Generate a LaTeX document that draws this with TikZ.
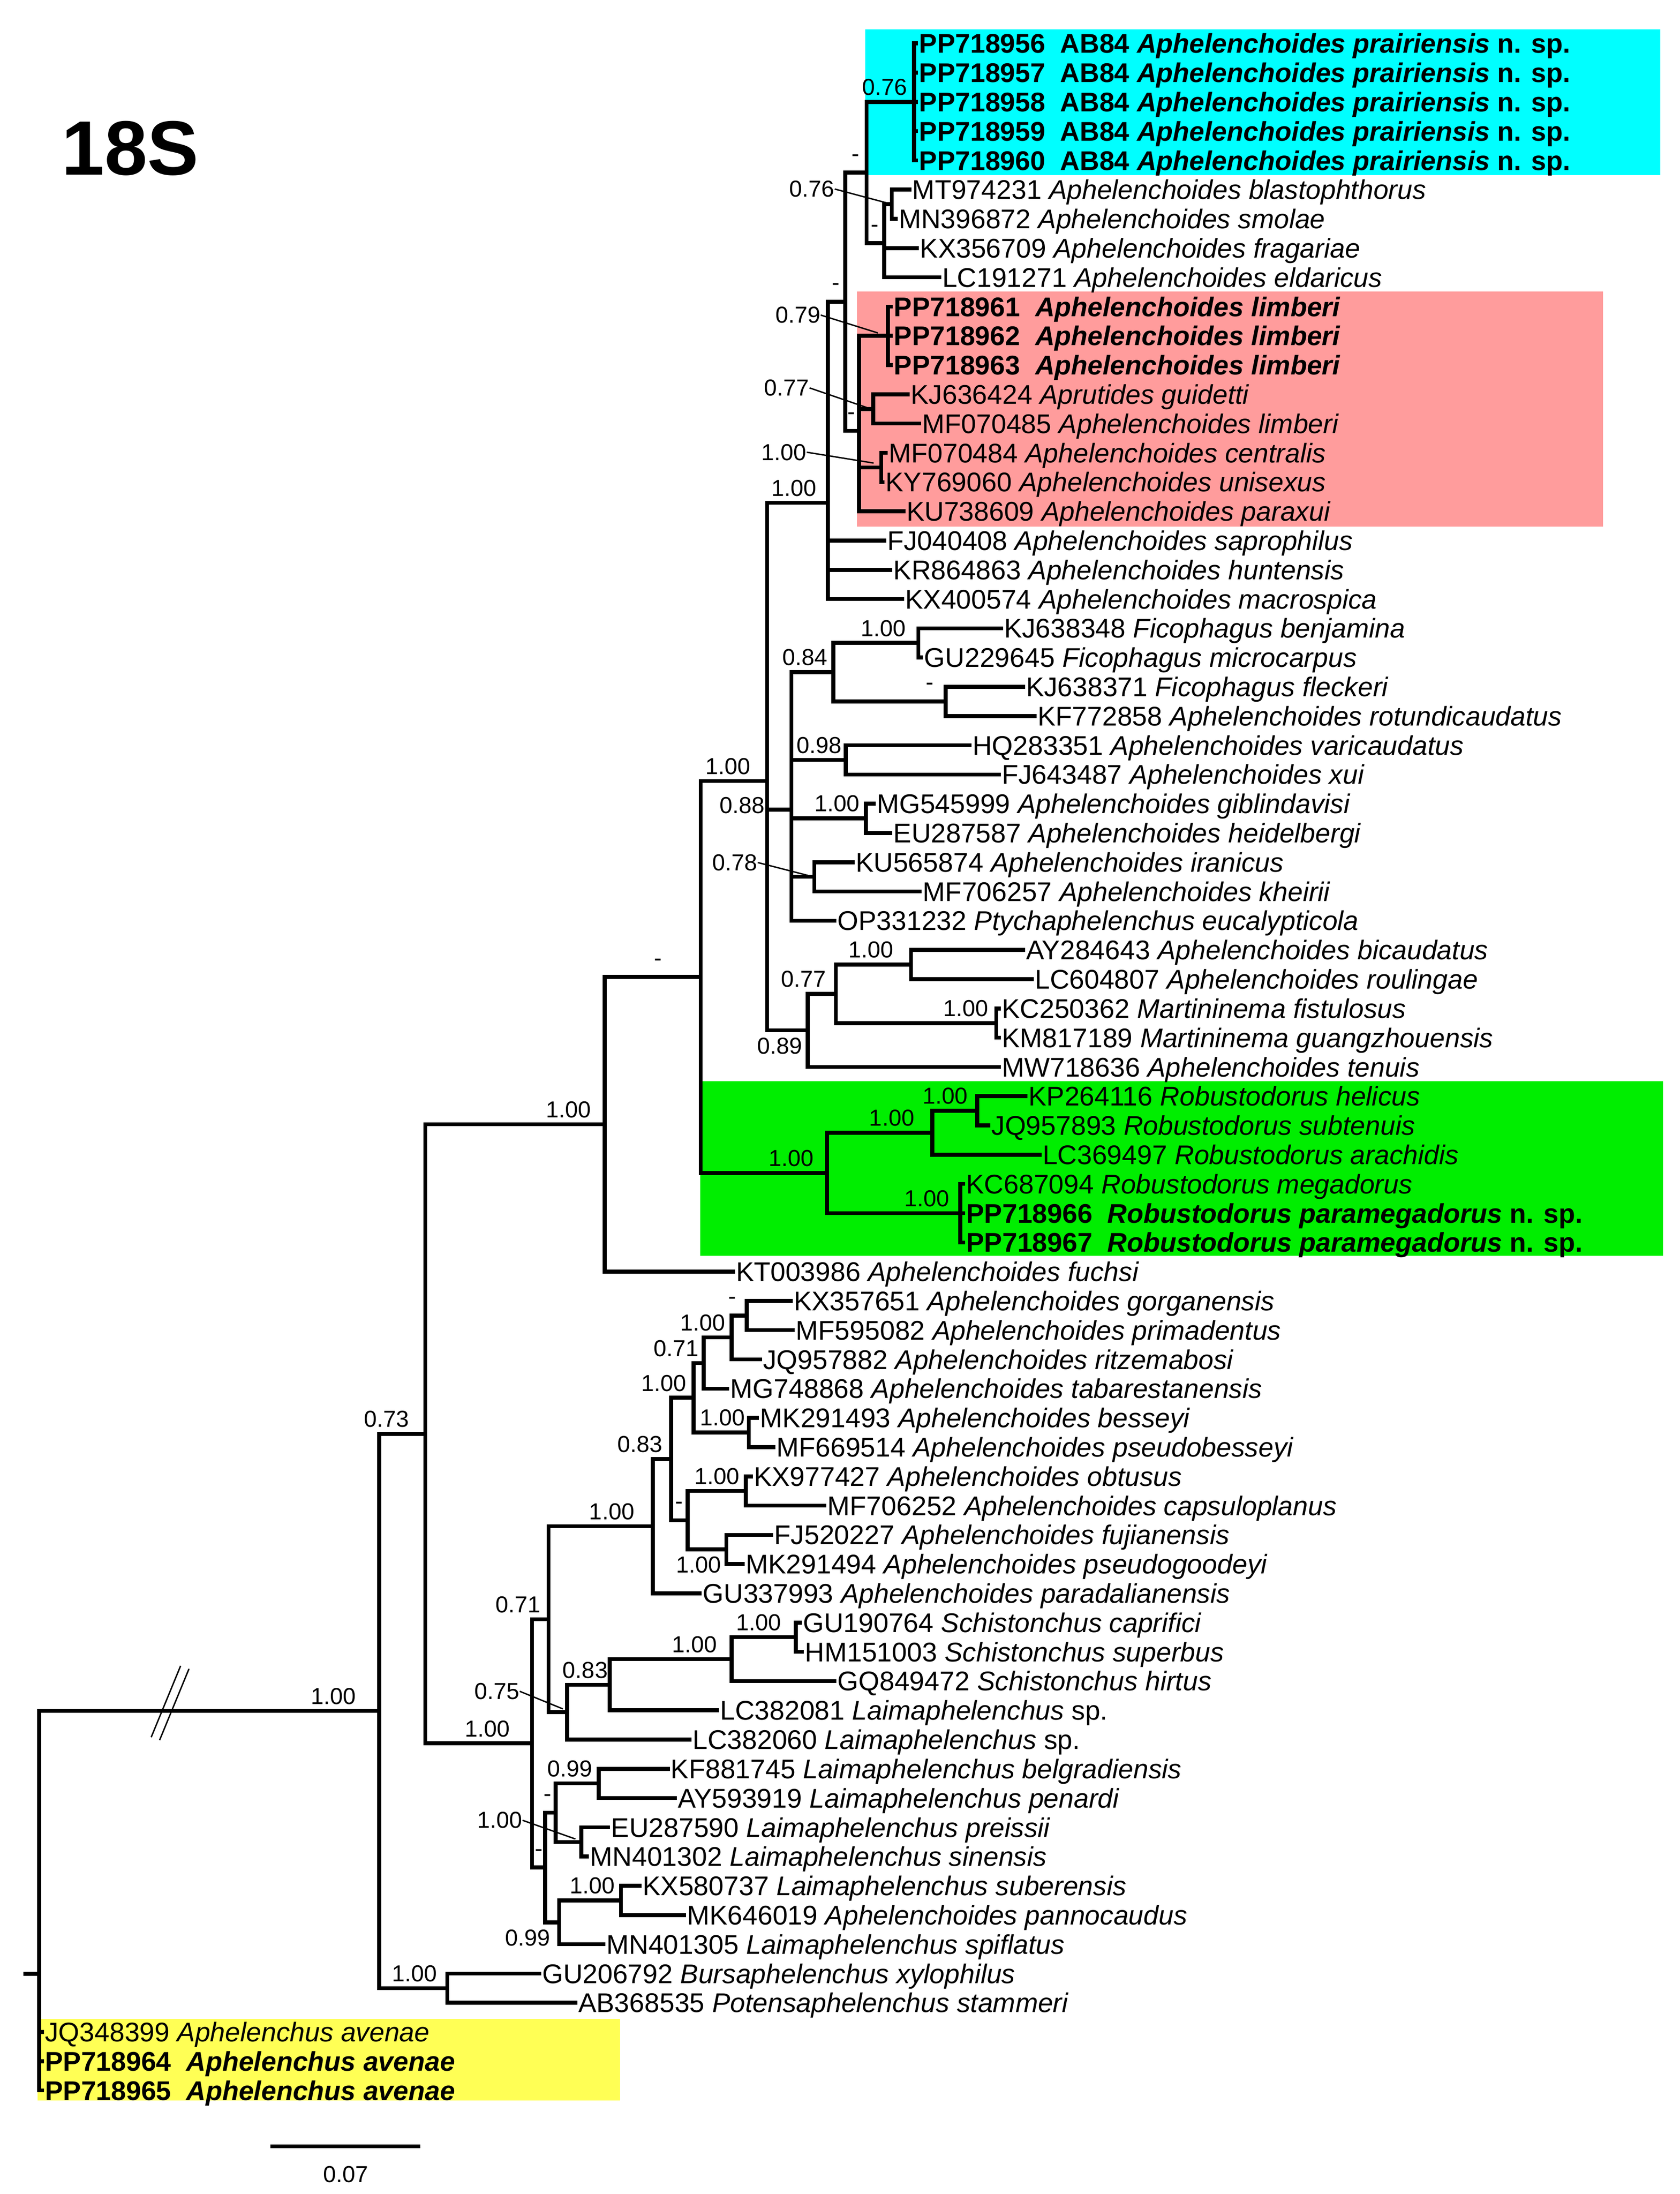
\documentclass[tikz,border=0pt]{standalone}
\usepackage{fontspec}
\setmainfont{Liberation Sans}
\newfontfamily\lf{Liberation Sans}
\definecolor{cybox}{HTML}{00FFFF}
\definecolor{pkbox}{HTML}{FF9C9C}
\definecolor{grbox}{HTML}{00EE00}
\definecolor{ylbox}{HTML}{FFFF55}
\newcommand\cl[4]{\draw[br] (#1 |- #2) -- (#1 |- #3); \foreach \c in {#4} {\draw[br] (#1 |- \c) -- (\c);}}
\newcommand\ab[3]{\node[lab] at (#1,#2) [yshift=10.5pt] {#3};}
\newcommand\be[3]{\node[lab] at (#1,#2) [yshift=-11pt] {#3};}
\begin{document}
\begin{tikzpicture}[x=1pt,y=-20.886pt,
  br/.style={line width=2.8pt,line cap=rect},
  thin/.style={line width=1pt},
  leaf/.style={anchor=west,inner xsep=2pt,inner ysep=0pt,text height=14pt,text depth=0.2pt,font=\lf\fontsize{19.3}{20}\selectfont},
  lab/.style={inner sep=0pt,font=\lf\fontsize{16.5}{18}\selectfont}]
\useasboundingbox (0,-0.4843) rectangle (1200,74.54);
% boxes
\fill[cybox] (618,0.52) rectangle (1186,5.5);
\fill[pkbox] (612,9.48) rectangle (1145,17.52);
\fill[grbox] (500,36.48) rectangle (1188,42.46);
\fill[ylbox] (27,68.56) rectangle (443,71.34);
\node[font=\lf\bfseries\fontsize{55}{60}\selectfont] (title) at (93,4.59) {18S};
% leaves
\node[leaf] (l1) at (654.4,1) {\textbf{PP718956\ \ AB84 \textit{Aphelenchoides prairiensis} n. sp.}};
\node[leaf] (l2) at (654.4,2) {\textbf{PP718957\ \ AB84 \textit{Aphelenchoides prairiensis} n. sp.}};
\node[leaf] (l3) at (654.4,3) {\textbf{PP718958\ \ AB84 \textit{Aphelenchoides prairiensis} n. sp.}};
\node[leaf] (l4) at (654.4,4) {\textbf{PP718959\ \ AB84 \textit{Aphelenchoides prairiensis} n. sp.}};
\node[leaf] (l5) at (654.4,5) {\textbf{PP718960\ \ AB84 \textit{Aphelenchoides prairiensis} n. sp.}};
\node[leaf] (l6) at (649.5,6) {MT974231 \textit{Aphelenchoides blastophthorus}};
\node[leaf] (l7) at (639.7,7) {MN396872 \textit{Aphelenchoides smolae}};
\node[leaf] (l8) at (655,8) {KX356709 \textit{Aphelenchoides fragariae}};
\node[leaf] (l9) at (670.8,9) {LC191271 \textit{Aphelenchoides eldaricus}};
\node[leaf] (l10) at (636.4,10) {\textbf{PP718961\ \ \textit{Aphelenchoides limberi}}};
\node[leaf] (l11) at (636.4,11) {\textbf{PP718962\ \ \textit{Aphelenchoides limberi}}};
\node[leaf] (l12) at (636.4,12) {\textbf{PP718963\ \ \textit{Aphelenchoides limberi}}};
\node[leaf] (l13) at (648.4,13) {KJ636424 \textit{Aprutides guidetti}};
\node[leaf] (l14) at (656.6,14) {MF070485 \textit{Aphelenchoides limberi}};
\node[leaf] (l15) at (632.6,15) {MF070484 \textit{Aphelenchoides centralis}};
\node[leaf] (l16) at (630.4,16) {KY769060 \textit{Aphelenchoides unisexus}};
\node[leaf] (l17) at (645.3,17) {KU738609 \textit{Aphelenchoides paraxui}};
\node[leaf] (l18) at (631.6,18) {FJ040408 \textit{Aphelenchoides saprophilus}};
\node[leaf] (l19) at (636,19) {KR864863 \textit{Aphelenchoides huntensis}};
\node[leaf] (l20) at (644.4,20) {KX400574 \textit{Aphelenchoides macrospica}};
\node[leaf] (l21) at (715,21) {KJ638348 \textit{Ficophagus benjamina}};
\node[leaf] (l22) at (658,22) {GU229645 \textit{Ficophagus microcarpus}};
\node[leaf] (l23) at (730.7,23) {KJ638371 \textit{Ficophagus fleckeri}};
\node[leaf] (l24) at (739,24) {KF772858 \textit{Aphelenchoides rotundicaudatus}};
\node[leaf] (l25) at (692.5,25) {HQ283351 \textit{Aphelenchoides varicaudatus}};
\node[leaf] (l26) at (713.5,26) {FJ643487 \textit{Aphelenchoides xui}};
\node[leaf] (l27) at (624,27) {MG545999 \textit{Aphelenchoides giblindavisi}};
\node[leaf] (l28) at (636,28) {EU287587 \textit{Aphelenchoides heidelbergi}};
\node[leaf] (l29) at (609,29) {KU565874 \textit{Aphelenchoides iranicus}};
\node[leaf] (l30) at (657,30) {MF706257 \textit{Aphelenchoides kheirii}};
\node[leaf] (l31) at (596,31) {OP331232 \textit{Ptychaphelenchus eucalypticola}};
\node[leaf] (l32) at (730.7,32) {AY284643 \textit{Aphelenchoides bicaudatus}};
\node[leaf] (l33) at (737,33) {LC604807 \textit{Aphelenchoides roulingae}};
\node[leaf] (l34) at (713.5,34) {KC250362 \textit{Martininema fistulosus}};
\node[leaf] (l35) at (713.5,35) {KM817189 \textit{Martininema guangzhouensis}};
\node[leaf] (l36) at (713.5,36) {MW718636 \textit{Aphelenchoides tenuis}};
\node[leaf] (l37) at (732.5,37) {KP264116 \textit{Robustodorus helicus}};
\node[leaf] (l38) at (706,38) {JQ957893 \textit{Robustodorus subtenuis}};
\node[leaf] (l39) at (742.5,39) {LC369497 \textit{Robustodorus arachidis}};
\node[leaf] (l40) at (688,40) {KC687094 \textit{Robustodorus megadorus}};
\node[leaf] (l41) at (688,41) {\textbf{PP718966\ \ \textit{Robustodorus paramegadorus} n. sp.}};
\node[leaf] (l42) at (688,42) {\textbf{PP718967\ \ \textit{Robustodorus paramegadorus} n. sp.}};
\node[leaf] (l43) at (523.5,43) {KT003986 \textit{Aphelenchoides fuchsi}};
\node[leaf] (l44) at (564.8,44) {KX357651 \textit{Aphelenchoides gorganensis}};
\node[leaf] (l45) at (566.3,45) {MF595082 \textit{Aphelenchoides primadentus}};
\node[leaf] (l46) at (542.9,46) {JQ957882 \textit{Aphelenchoides ritzemabosi}};
\node[leaf] (l47) at (519.5,47) {MG748868 \textit{Aphelenchoides tabarestanensis}};
\node[leaf] (l48) at (540.7,48) {MK291493 \textit{Aphelenchoides besseyi}};
\node[leaf] (l49) at (552.4,49) {MF669514 \textit{Aphelenchoides pseudobesseyi}};
\node[leaf] (l50) at (536.3,50) {KX977427 \textit{Aphelenchoides obtusus}};
\node[leaf] (l51) at (588.9,51) {MF706252 \textit{Aphelenchoides capsuloplanus}};
\node[leaf] (l52) at (550.9,52) {FJ520227 \textit{Aphelenchoides fujianensis}};
\node[leaf] (l53) at (530.5,53) {MK291494 \textit{Aphelenchoides pseudogoodeyi}};
\node[leaf] (l54) at (499.8,54) {GU337993 \textit{Aphelenchoides paradalianensis}};
\node[leaf] (l55) at (571.4,55) {GU190764 \textit{Schistonchus caprifici}};
\node[leaf] (l56) at (572.8,56) {HM151003 \textit{Schistonchus superbus}};
\node[leaf] (l57) at (596,57) {GQ849472 \textit{Schistonchus hirtus}};
\node[leaf] (l58) at (512.2,58) {LC382081 \textit{Laimaphelenchus} sp.};
\node[leaf] (l59) at (492.5,59) {LC382060 \textit{Laimaphelenchus} sp.};
\node[leaf] (l60) at (477,60) {KF881745 \textit{Laimaphelenchus belgradiensis}};
\node[leaf] (l61) at (482,61) {AY593919 \textit{Laimaphelenchus penardi}};
\node[leaf] (l62) at (434.4,62) {EU287590 \textit{Laimaphelenchus preissii}};
\node[leaf] (l63) at (419.3,63) {MN401302 \textit{Laimaphelenchus sinensis}};
\node[leaf] (l64) at (456.9,64) {KX580737 \textit{Laimaphelenchus suberensis}};
\node[leaf] (l65) at (488.6,65) {MK646019 \textit{Aphelenchoides pannocaudus}};
\node[leaf] (l66) at (431,66) {MN401305 \textit{Laimaphelenchus spiflatus}};
\node[leaf] (l67) at (385.1,67) {GU206792 \textit{Bursaphelenchus xylophilus}};
\node[leaf] (l68) at (411,68) {AB368535 \textit{Potensaphelenchus stammeri}};
\node[leaf] (l69) at (30,69) {JQ348399 \textit{Aphelenchus avenae}};
\node[leaf] (l70) at (30,70) {\textbf{PP718964\ \ \textit{Aphelenchus avenae}}};
\node[leaf] (l71) at (30,71) {\textbf{PP718965\ \ \textit{Aphelenchus avenae}}};
% internal nodes
\coordinate (root) at (28,67.0056);
\coordinate (stub) at (18,67.0056);
\coordinate (B) at (270.8,58.0225);
\coordinate (K) at (319.5,67.5);
\coordinate (C) at (303.8,48.545);
\coordinate (D) at (432,37.9611);
\coordinate (E) at (500.5,32.9222);
\coordinate (N0) at (548,26.2194);
\coordinate (N1) at (591.4,16.7083);
\coordinate (N2) at (603.7,9.8333);
\coordinate (T) at (619,5.4167);
\coordinate (Cy) at (652.8,3);
\coordinate (S) at (631.5,7.8333);
\coordinate (MM) at (637,6.5);
\coordinate (P) at (613.5,14.25);
\coordinate (Pa) at (634.2,11);
\coordinate (Pb) at (623.8,13.5);
\coordinate (Pc) at (629.5,15.5);
\coordinate (F) at (565.3,27.2);
\coordinate (H) at (595.3,22.5);
\coordinate (Fi) at (656,21.5);
\coordinate (Da) at (675.5,23.5);
\coordinate (N98) at (604,25.5);
\coordinate (MG) at (618.5,27.5);
\coordinate (N78) at (581.6,29.5);
\coordinate (G) at (577,34.75);
\coordinate (I) at (597,33.5);
\coordinate (AL) at (650.7,32.5);
\coordinate (KK) at (711.6,34.5);
\coordinate (R) at (590.7,39.625);
\coordinate (R1) at (666,38.25);
\coordinate (KJ) at (698,37.5);
\coordinate (R2) at (686,41);
\coordinate (L) at (380,59.129);
\coordinate (L1) at (391.8,54.883);
\coordinate (Q) at (466.3,51.703);
\coordinate (Q1) at (479.4,49.40625);
\coordinate (Q2) at (495.4,47.3125);
\coordinate (Q4) at (502.7,46.125);
\coordinate (Q5) at (522.5,45.25);
\coordinate (Q6) at (533.4,44.5);
\coordinate (MKMF) at (534.9,48.5);
\coordinate (Q3) at (491.1,51.5);
\coordinate (Q7) at (532.7,50.5);
\coordinate (Q8) at (518.8,52.5);
\coordinate (W) at (405,58.0625);
\coordinate (X) at (435.6,57.125);
\coordinate (Y) at (522.5,56.25);
\coordinate (Sc) at (568.4,55.5);
\coordinate (L2) at (389.3,63.375);
\coordinate (L3) at (396.8,61.5);
\coordinate (KA) at (427.7,60.5);
\coordinate (EM) at (415.2,62.5);
\coordinate (L4) at (399.3,65.25);
\coordinate (KM) at (443.5,64.5);
% branches
\draw[br] (stub) -- (root);
\cl{root}{B}{l71.west}{B,l69.west,l70.west,l71.west}
\cl{B}{C}{K}{C,K}
\cl{K}{l67.west}{l68.west}{l67.west,l68.west}
\cl{C}{D}{L}{D,L}
\cl{D}{E}{l43.west}{E,l43.west}
\cl{E}{N0}{R}{N0,R}
\cl{N0}{N1}{G}{N1,F,G}
\cl{N1}{N2}{l20.west}{N2,l18.west,l19.west,l20.west}
\cl{N2}{T}{P}{T,P}
\cl{T}{Cy}{S}{Cy,S}
\cl{Cy}{l1.west}{l5.west}{l1.west,l2.west,l3.west,l4.west,l5.west}
\cl{S}{MM}{l9.west}{MM,l8.west,l9.west}
\cl{MM}{l6.west}{l7.west}{l6.west,l7.west}
\cl{P}{Pa}{l17.west}{Pa,Pb,Pc,l17.west}
\cl{Pa}{l10.west}{l12.west}{l10.west,l11.west,l12.west}
\cl{Pb}{l13.west}{l14.west}{l13.west,l14.west}
\cl{Pc}{l15.west}{l16.west}{l15.west,l16.west}
\cl{F}{H}{l31.west}{H,N98,MG,N78,l31.west}
\cl{H}{Fi}{Da}{Fi,Da}
\cl{Fi}{l21.west}{l22.west}{l21.west,l22.west}
\cl{Da}{l23.west}{l24.west}{l23.west,l24.west}
\cl{N98}{l25.west}{l26.west}{l25.west,l26.west}
\cl{MG}{l27.west}{l28.west}{l27.west,l28.west}
\cl{N78}{l29.west}{l30.west}{l29.west,l30.west}
\cl{G}{I}{l36.west}{I,l36.west}
\cl{I}{AL}{KK}{AL,KK}
\cl{AL}{l32.west}{l33.west}{l32.west,l33.west}
\cl{KK}{l34.west}{l35.west}{l34.west,l35.west}
\cl{R}{R1}{R2}{R1,R2}
\cl{R1}{KJ}{l39.west}{KJ,l39.west}
\cl{KJ}{l37.west}{l38.west}{l37.west,l38.west}
\cl{R2}{l40.west}{l42.west}{l40.west,l41.west,l42.west}
\cl{L}{L1}{L2}{L1,L2}
\cl{L1}{Q}{W}{Q,W}
\cl{Q}{Q1}{l54.west}{Q1,l54.west}
\cl{Q1}{Q2}{Q3}{Q2,Q3}
\cl{Q2}{Q4}{MKMF}{Q4,MKMF}
\cl{Q4}{Q5}{l47.west}{Q5,l47.west}
\cl{Q5}{Q6}{l46.west}{Q6,l46.west}
\cl{Q6}{l44.west}{l45.west}{l44.west,l45.west}
\cl{MKMF}{l48.west}{l49.west}{l48.west,l49.west}
\cl{Q3}{Q7}{Q8}{Q7,Q8}
\cl{Q7}{l50.west}{l51.west}{l50.west,l51.west}
\cl{Q8}{l52.west}{l53.west}{l52.west,l53.west}
\cl{W}{X}{l59.west}{X,l59.west}
\cl{X}{Y}{l58.west}{Y,l58.west}
\cl{Y}{Sc}{l57.west}{Sc,l57.west}
\cl{Sc}{l55.west}{l56.west}{l55.west,l56.west}
\cl{L2}{L3}{L4}{L3,L4}
\cl{L3}{KA}{EM}{KA,EM}
\cl{KA}{l60.west}{l61.west}{l60.west,l61.west}
\cl{EM}{l62.west}{l63.west}{l62.west,l63.west}
\cl{L4}{KM}{l66.west}{KM,l66.west}
\cl{KM}{l64.west}{l65.west}{l64.west,l65.west}
% break marks
\draw[thin] (108,58.92) -- (129,56.48);
\draw[thin] (114,59.02) -- (135,56.58);
% support values
\ab{632}{3}{0.76}
\ab{611}{5.4167}{-}
\ab{625}{7.8333}{-}
\ab{597}{9.8333}{-}
\ab{608}{14.25}{-}
\ab{567}{16.7083}{1.00}
\ab{631}{21.5}{1.00}
\ab{575}{22.5}{0.84}
\ab{664}{23.5}{-}
\ab{585}{25.5}{0.98}
\ab{520}{26.2194}{1.00}
\node[lab] at (530,27.2) [yshift=3pt] {0.88};
\ab{598}{27.5}{1.00}
\ab{622}{32.5}{1.00}
\ab{574}{33.5}{0.77}
\ab{690}{34.5}{1.00}
\be{557}{34.75}{0.89}
\ab{470}{32.9222}{-}
\ab{406}{37.9611}{1.00}
\ab{675}{37.5}{1.00}
\ab{637}{38.25}{1.00}
\ab{565}{39.625}{1.00}
\ab{662}{41}{1.00}
\ab{523}{44.5}{-}
\ab{502}{45.25}{1.00}
\ab{483}{46.125}{0.71}
\ab{474}{47.3125}{1.00}
\ab{516}{48.5}{1.00}
\ab{457}{49.406}{0.83}
\ab{512}{50.5}{1.00}
\ab{485}{51.5}{-}
\ab{437}{51.703}{1.00}
\be{499}{52.5}{1.00}
\ab{370}{54.883}{0.71}
\ab{542}{55.5}{1.00}
\ab{496}{56.25}{1.00}
\ab{418}{57.125}{0.83}
\ab{348}{59.129}{1.00}
\ab{407}{60.5}{0.99}
\ab{391}{61.5}{-}
\ab{385}{63.375}{-}
\ab{423}{64.5}{1.00}
\be{377}{65.25}{0.99}
\ab{296}{67.5}{1.00}
\ab{276}{48.545}{0.73}
\ab{238}{58.0225}{1.00}
% leader labels
\node[lab] (s1) at (580,5.98) {0.76};
\draw[thin] (s1.east) -- (MM);
\node[lab] (s2) at (570,10.29) {0.79};
\draw[thin] (s2.east) -- (627,10.9);
\node[lab] (s3) at (562,12.78) {0.77};
\draw[thin] (s3.east) -- (619,13.45);
\node[lab] (s4) at (560,14.98) {1.00};
\draw[thin] (s4.east) -- (624,15.35);
\node[lab] (s5) at (525,29.01) {0.78};
\draw[thin] (s5.east) -- (577,29.45);
\node[lab] (s6) at (355,57.35) {0.75};
\draw[thin] (s6.east) -- (402,57.95);
\node[lab] (s7) at (357,61.76) {1.00};
\draw[thin] (s7.east) -- (411,62.4);
% scale bar
\coordinate (sb1) at (193,72.91);
\coordinate (sb2) at (300,72.91);
\draw[line width=2.8pt] (sb1) -- (sb2);
\node[lab] (sbl) at (247,73.87) {0.07};
\end{tikzpicture}
\end{document}
